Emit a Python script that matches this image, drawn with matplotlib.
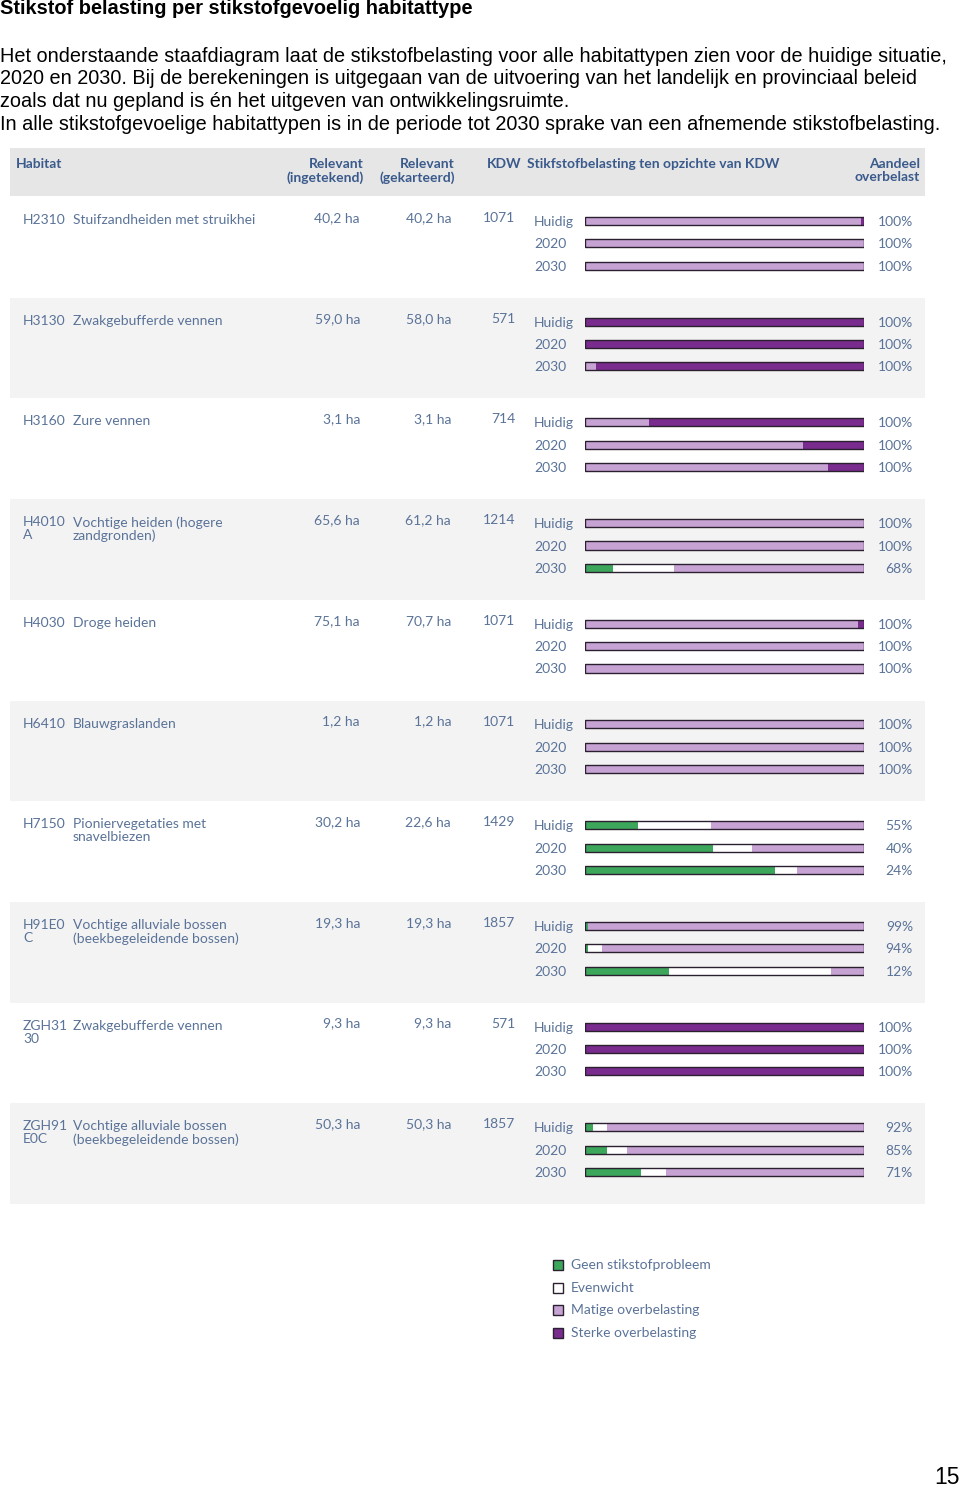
import matplotlib
matplotlib.use("Agg")
import matplotlib.pyplot as plt
from matplotlib.patches import Rectangle
import numpy as np

# ---- data ----
codes = ["H2310", "H3130", "H3160", "H4010\nA", "H4030", "H6410", "H7150",
         "H91E0\nC", "ZGH31\n30", "ZGH91\nE0C"]
names = ["Stuifzandheiden met struikhei", "Zwakgebufferde vennen", "Zure vennen",
         "Vochtige heiden (hogere\nzandgronden)", "Droge heiden", "Blauwgraslanden",
         "Pioniervegetaties met\nsnavelbiezen",
         "Vochtige alluviale bossen\n(beekbegeleidende bossen)",
         "Zwakgebufferde vennen",
         "Vochtige alluviale bossen\n(beekbegeleidende bossen)"]
ingetekend = ["40,2 ha", "59,0 ha", "3,1 ha", "65,6 ha", "75,1 ha", "1,2 ha",
              "30,2 ha", "19,3 ha", "9,3 ha", "50,3 ha"]
gekarteerd = ["40,2 ha", "58,0 ha", "3,1 ha", "61,2 ha", "70,7 ha", "1,2 ha",
              "22,6 ha", "19,3 ha", "9,3 ha", "50,3 ha"]
kdw = [1071, 571, 714, 1214, 1071, 1071, 1429, 1857, 571, 1857]
periods = ["Huidig", "2020", "2030"]

# percentage of area per class, per habitat, per period (Huidig, 2020, 2030)
geen = [[0, 0, 0], [0, 0, 0], [0, 0, 0], [0, 0, 10], [0, 0, 0],
        [0, 0, 0], [19, 46, 68], [1, 1, 30], [0, 0, 0], [3, 8, 20]]
evenwicht = [[0, 0, 0], [0, 0, 0], [0, 0, 0], [0, 0, 22], [0, 0, 0],
             [0, 0, 0], [26, 14, 8], [0, 5, 58], [0, 0, 0], [5, 7, 9]]
matig = [[99, 100, 100], [0, 0, 4], [23, 78, 87], [100, 100, 68], [98, 100, 100],
         [100, 100, 100], [55, 40, 24], [99, 94, 12], [0, 0, 0], [92, 85, 71]]
sterke = [[1, 0, 0], [100, 100, 96], [77, 22, 13], [0, 0, 0], [2, 0, 0],
          [0, 0, 0], [0, 0, 0], [0, 0, 0], [100, 100, 100], [0, 0, 0]]

classes = ["Geen stikstofprobleem", "Evenwicht", "Matige overbelasting", "Sterke overbelasting"]
colors = ["#3ca75a", "#ffffff", "#c6a3d3", "#7a2b8e"]

# ---- layout ----
W, H = 960, 1490
fig = plt.figure(figsize=(W / 100, H / 100), dpi=100)
bg = fig.add_axes([0, 0, 1, 1])
bg.set_xlim(0, W)
bg.set_ylim(H, 0)
bg.axis("off")

txt = "#5a7398"
hdr = "#3a5a8c"
tf = "Lato"

# page text
bg.text(0, 8, "Stikstof belasting per stikstofgevoelig habitattype", fontsize=14.4,
        fontweight="bold", family="Liberation Sans", va="center", ha="left")
intro = ["Het onderstaande staafdiagram laat de stikstofbelasting voor alle habitattypen zien voor de huidige situatie,",
         "2020 en 2030. Bij de berekeningen is uitgegaan van de uitvoering van het landelijk en provinciaal beleid",
         "zoals dat nu gepland is én het uitgeven van ontwikkelingsruimte.",
         "In alle stikstofgevoelige habitattypen is in de periode tot 2030 sprake van een afnemende stikstofbelasting."]
for k, line in enumerate(intro):
    bg.text(0, 56 + k * 22.7, line, fontsize=14.3, family="Liberation Sans",
            va="center", ha="left")
bg.text(960, 1478, "15", fontsize=16.5, family="Liberation Sans", va="center", ha="right")

# header band
bg.add_patch(Rectangle((10, 148), 915, 48, color="#e6e6e6", lw=0))
hk = dict(fontsize=10, fontweight="bold", family=tf, color=hdr, linespacing=1.1)
bg.text(16, 164, "Habitat", va="center", ha="left", **hk)
bg.text(364, 158, "Relevant\n(ingetekend)", va="top", ha="right", **hk)
bg.text(455, 158, "Relevant\n(gekarteerd)", va="top", ha="right", **hk)
bg.text(487, 164, "KDW", va="center", ha="left", **hk)
bg.text(527, 164, "Stikfstofbelasting ten opzichte van KDW", va="center", ha="left", **hk)
bg.text(920, 158, "Aandeel\noverbelast", va="top", ha="right", **hk)

row_top, row_h = 197, 100.7
n = len(codes)
offs = [0.238, 0.461, 0.682]

# bar axes: rows in units, percent along x
ax = fig.add_axes([585 / W, 1 - (row_top + n * row_h) / H, 279 / W, n * row_h / H])
ax.set_xlim(0, 100)
ax.set_ylim(n, 0)
ax.axis("off")

data = np.array([geen, evenwicht, matig, sterke], dtype=float)  # class, habitat, period
bh = 0.08
dk = dict(fontsize=10, family=tf, color=txt)
for i in range(n):
    top = row_top + i * row_h
    if i % 2 == 1:
        bg.add_patch(Rectangle((10, top), 915, row_h, color="#f3f3f3", lw=0, zorder=0))
    bg.text(23, top + 17, codes[i], va="top", ha="left", linespacing=1.1, **dk)
    bg.text(73, top + 17, names[i], va="top", ha="left", linespacing=1.1, **dk)
    bg.text(360, top + 21, ingetekend[i], va="center", ha="right", **dk)
    bg.text(451, top + 21, gekarteerd[i], va="center", ha="right", **dk)
    bg.text(515, top + 21, str(kdw[i]), va="center", ha="right", **dk)
    for j, p in enumerate(periods):
        y = i + offs[j]
        left = 0
        for c in range(4):
            v = data[c, i, j]
            if v > 0:
                ax.barh(y, v, left=left, height=bh, color=colors[c], lw=0)
            left += v
        ax.barh(y, left, height=bh, fill=False, edgecolor="#2a2030", lw=1.0)
        yp = row_top + y * row_h
        bg.text(534, yp + 1, p, va="center", ha="left", **dk)
        over = int(round(data[2, i, j] + data[3, i, j]))
        bg.text(913, yp + 1, f"{over}%", va="center", ha="right", **dk)

# legend
for c, lab in enumerate(classes):
    y = 1265 + c * 22.6
    bg.add_patch(Rectangle((553, y - 5), 10, 10, facecolor=colors[c],
                           edgecolor="#2a2030", lw=1.0))
    bg.text(571, y, lab, va="center", ha="left", **dk)

fig.savefig("out.png", dpi=100)
